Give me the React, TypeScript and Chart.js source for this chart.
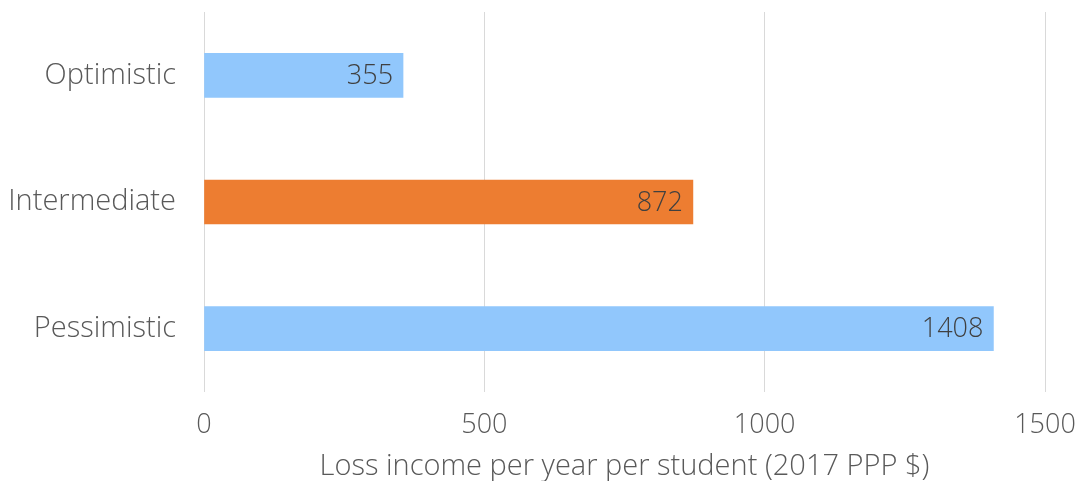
import React, { useEffect, useRef } from "react";
import { Chart, registerables } from "chart.js";

Chart.register(...registerables);

const categories = ["Optimistic", "Intermediate", "Pessimistic"];
const values = [355, 872, 1408];
const barColors = ["#91c7fc", "#ed7d31", "#91c7fc"];
const xTicks = [0, 500, 1000, 1500];
const xTitle = "Loss income per year per student (2017 PPP $)";

const FONT = "'Open Sans', Lato, sans-serif";

const valueLabels = {
  id: "valueLabels",
  afterDatasetsDraw(chart: any) {
    const ctx = chart.ctx;
    const meta = chart.getDatasetMeta(0);
    ctx.save();
    ctx.font = `300 27px ${FONT}`;
    ctx.fillStyle = "#404040";
    ctx.textAlign = "right";
    ctx.textBaseline = "middle";
    meta.data.forEach((bar: any, i: number) => {
      ctx.fillText(String(values[i]), bar.x - 10, bar.y + 1);
    });
    ctx.restore();
  },
};

export default function App() {
  const ref = useRef<HTMLCanvasElement>(null);
  useEffect(() => {
    if (!ref.current) return;
    const chart = new Chart(ref.current, {
      type: "bar",
      data: {
        labels: categories,
        datasets: [
          {
            data: values,
            backgroundColor: barColors,
            barThickness: 44,
          },
        ],
      },
      options: {
        indexAxis: "y",
        animation: false,
        responsive: true,
        maintainAspectRatio: false,
        layout: { padding: { top: 12, right: 31, left: 0, bottom: 0 } },
        plugins: { legend: { display: false }, tooltip: { enabled: false } },
        scales: {
          x: {
            min: 0,
            max: 1500,
            afterBuildTicks: (axis: any) => {
              axis.ticks = xTicks.map((v) => ({ value: v }));
            },
            afterFit: (axis: any) => {
              axis.height = 89;
              axis.paddingLeft = 0;
              axis.paddingRight = 0;
            },
            grid: { color: "#d9d9d9", drawTicks: false, lineWidth: 1 },
            border: { display: false },
            ticks: {
              padding: 17,
              color: "#595959",
              font: { family: FONT, size: 27, weight: "300" },
              callback: (v: any) => String(v),
            },
            title: {
              display: true,
              text: xTitle,
              color: "#595959",
              font: { family: FONT, size: 29, weight: "300", lineHeight: 1 },
              padding: { top: 0, bottom: 0 },
            },
          },
          y: {
            afterFit: (axis: any) => {
              axis.width = 204;
              axis.paddingTop = 0;
              axis.paddingBottom = 0;
            },
            grid: { display: false, drawTicks: false },
            border: { display: false },
            ticks: {
              padding: 28,
              color: "#595959",
              font: { family: FONT, size: 29, weight: "300" },
            },
          },
        },
      },
      plugins: [valueLabels],
    });
    return () => chart.destroy();
  }, []);
  return (
    <div style={{ position: "absolute", left: 0, top: 0, width: 1076, height: 481 }}>
      <canvas ref={ref} />
    </div>
  );
}
